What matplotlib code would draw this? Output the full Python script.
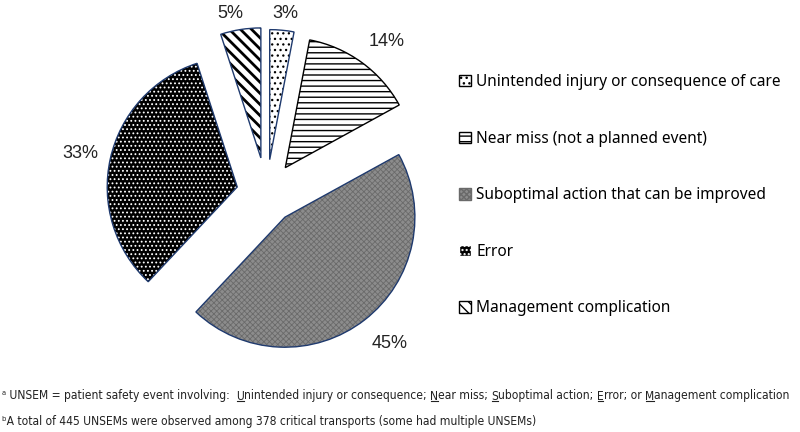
import matplotlib
matplotlib.use("Agg")
import matplotlib.pyplot as plt
from matplotlib.patches import Patch, Wedge

# ---- data ----
categories = ["Unintended injury or consequence of care", "Near miss (not a planned event)",
              "Suboptimal action that can be improved", "Error", "Management complication"]
shares = [3, 14, 45, 33, 5]
pct_labels = ["3%", "14%", "45%", "33%", "5%"]
footnote_a = [("ᵃ UNSEM = patient safety event involving:  ", False), ("U", True),
              ("nintended injury or consequence; ", False), ("N", True), ("ear miss; ", False),
              ("S", True), ("uboptimal action; ", False), ("E", True), ("rror; or ", False),
              ("M", True), ("anagement complication", False)]
footnote_b = "ᵇA total of 445 UNSEMs were observed among 378 critical transports (some had multiple UNSEMs)"

# ---- style ----
face = ["white", "white", "#8c8c8c", "black", "white"]
hatch_col = ["black", "black", "#6a6a6a", "white", "black"]
hatches = ["...", "---", "xxxxxx", "....", "\\\\\\"]
hatch_lw = [0.9, 1.0, 0.6, 0.8, 2.0]
outline = ["#1f3a6e", "black", "#1f3a6e", "#1f3a6e", "#1f3a6e"]
explode = [34, 32, 30, 30, 36]
label_pos = [(285, 13), (387, 42), (390, 343), (80, 153), (230, 13)]  # px from top-left

plt.rcParams["font.family"] = ["Noto Sans", "DejaVu Sans"]
plt.rcParams["hatch.linewidth"] = 1.0

W, H = 800, 432
fig = plt.figure(figsize=(8, 4.32), dpi=100)
ax = fig.add_axes([0, 0, 1, 1])
cx, cy, R = 266.5, H - 193.5, 130

wedges, _ = ax.pie(shares, startangle=90, counterclock=False, radius=R, center=(cx, cy),
                   explode=explode)
for w, fc, hc, h, hl, oc in zip(wedges, face, hatch_col, hatches, hatch_lw, outline):
    w.set_facecolor(fc)
    w.set_edgecolor(hc)
    w.set_hatch(h)
    w.set_linewidth(0)
    if hasattr(w, "set_hatch_linewidth"):
        w.set_hatch_linewidth(hl)
    ax.add_patch(Wedge(w.center, w.r, w.theta1, w.theta2, fill=False, ec=oc, lw=1.0))

ax.set_xlim(0, W)
ax.set_ylim(0, H)
ax.set_aspect("auto")
ax.axis("off")

for txt, (x, y) in zip(pct_labels, label_pos):
    ax.text(x, H - y, txt, ha="center", va="center", fontsize=13,
            family=["Liberation Sans", "DejaVu Sans"], color="#222222")

handles = [Patch(facecolor=fc, edgecolor=hc, hatch=h) for fc, hc, h in zip(face, hatch_col, hatches)]
leg = fig.legend(handles, categories, loc="upper left", bbox_to_anchor=(453 / W, 1 - 68 / H),
                 frameon=False, fontsize=11.1, handlelength=0.75, handleheight=0.75,
                 handletextpad=0.35, labelspacing=2.63, borderaxespad=0)
for p in leg.get_patches():
    p.set_linewidth(1.0)

# footnotes, with underlined initials; shrink font until line a fits the width
fig.canvas.draw()
r = fig.canvas.get_renderer()
fn_family = ["DejaVu Sans", "Noto Sans"]


def draw_line_a(fs):
    arts, x0 = [], 2
    for s, ul in footnote_a:
        t = ax.text(x0, H - 396, s, ha="left", va="center", fontsize=fs, family=fn_family,
                    fontstretch="condensed", color="#222222")
        bb = t.get_window_extent(r)
        arts.append((t, bb, ul))
        x0 = bb.x1
    return arts, x0


fs = 9.5
arts, end = draw_line_a(fs)
if end > 797:
    for t, _, _ in arts:
        t.remove()
    fs = fs * (795 / end)
    arts, end = draw_line_a(fs)
for t, bb, ul in arts:
    if ul:
        ax.plot([bb.x0 + 0.5, bb.x1 - 0.5], [bb.y0 + 1.5, bb.y0 + 1.5], color="#222222", lw=0.8)
ax.text(2, H - 421, footnote_b, ha="left", va="center", fontsize=fs, family=fn_family,
        fontstretch="condensed", color="#222222")

fig.savefig("out.png", dpi=100)
